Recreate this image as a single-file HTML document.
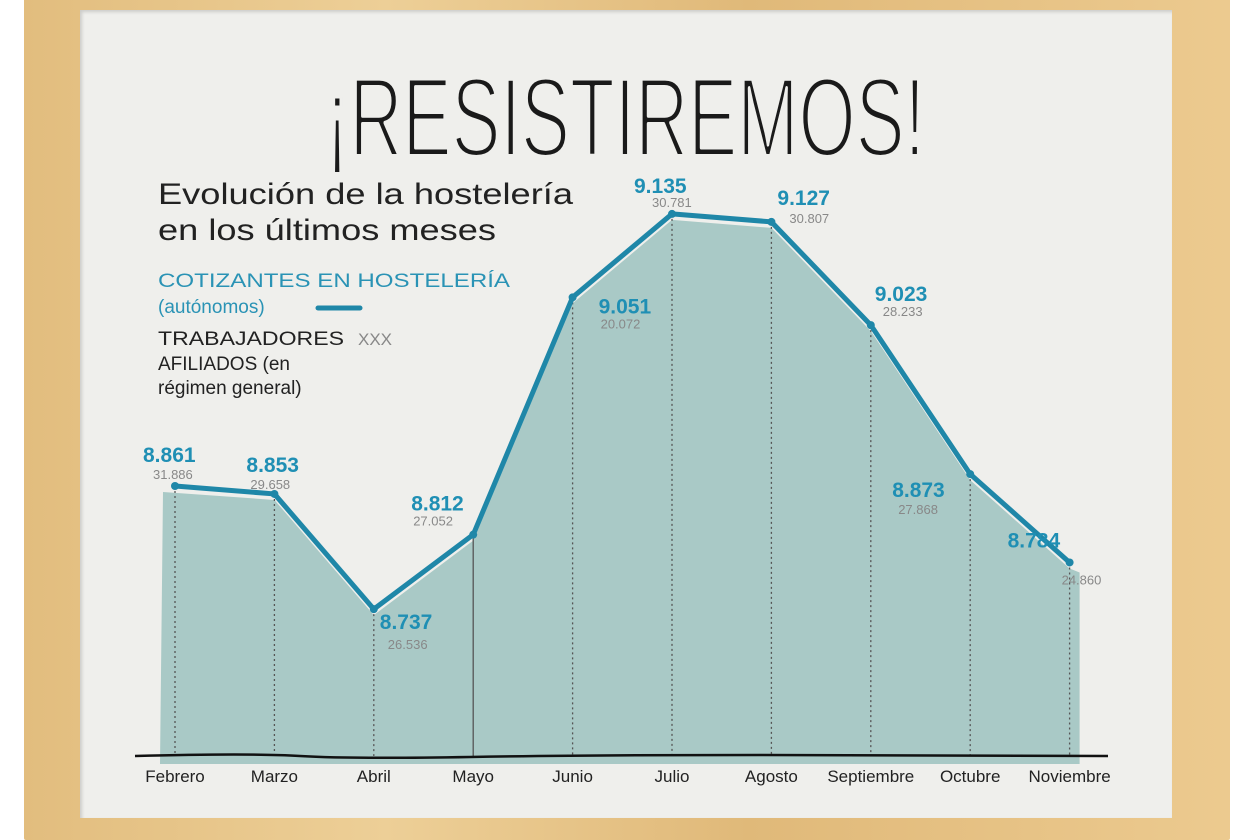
<!DOCTYPE html>
<html><head><meta charset="utf-8">
<style>
html,body{margin:0;padding:0;background:#ffffff;width:1248px;height:840px;overflow:hidden;}
#frame{position:absolute;left:24px;top:-10px;width:1206px;height:850px;background:linear-gradient(90deg,#e2bd7e,#edcf97 30%,#e0b979 60%,#ecca8f);border-radius:2px;}
#board{position:absolute;left:80px;top:10px;width:1092px;height:808px;background:#efefec;box-shadow:inset 2px 2px 3px rgba(0,0,0,0.15);}
svg{position:absolute;left:0;top:0;}
text{font-family:"Liberation Sans",sans-serif;}
</style></head><body>
<div id="frame"></div>
<div id="board"></div>
<svg id="chart" width="1248" height="840">
  <text x="325" y="156" font-size="112" textLength="600" lengthAdjust="spacingAndGlyphs" fill="#1a1a1a" stroke="#efefec" stroke-width="4" stroke-linejoin="round">¡RESISTIREMOS!</text>
  <text x="158" y="204" font-size="30" fill="#222" textLength="415" lengthAdjust="spacingAndGlyphs">Evolución de la hostelería</text>
  <text x="158" y="240" font-size="30" fill="#222" textLength="338" lengthAdjust="spacingAndGlyphs">en los últimos meses</text>
  <text x="158" y="287" font-size="19" fill="#2a93b5" textLength="352" lengthAdjust="spacingAndGlyphs">COTIZANTES EN HOSTELERÍA</text>
  <text x="158" y="313" font-size="19" fill="#2a93b5">(autónomos)</text>
  <line x1="318" y1="308" x2="360" y2="308" stroke="#1f87a8" stroke-width="5" stroke-linecap="round"/>
  <text x="158" y="345" font-size="19" fill="#222" textLength="186" lengthAdjust="spacingAndGlyphs">TRABAJADORES</text>
  <text x="358" y="345" font-size="17" fill="#888">XXX</text>
  <text x="158" y="370" font-size="19" fill="#222">AFILIADOS (en</text>
  <text x="158" y="394" font-size="19" fill="#222">régimen general)</text>
  <g id="plot"></g>
</svg>
<script>
const months = ["Febrero","Marzo","Abril","Mayo","Junio","Julio","Agosto","Septiembre","Octubre","Noviembre"];
const autonomos = [8861,8853,8737,8812,9051,9135,9127,9023,8873,8784];
const trabajadores = [31886,29658,26536,27052,29072,30781,30807,28233,27868,24860];
const autonomosLabels = ["8.861","8.853","8.737","8.812","9.051","9.135","9.127","9.023","8.873","8.784"];
const trabajadoresLabels = ["31.886","29.658","26.536","27.052","20.072","30.781","30.807","28.233","27.868","24.860"];

const NS="http://www.w3.org/2000/svg";
const plot=document.getElementById('plot');
const x0=175, dx=99.4, baseY=756;
function xScale(i){return x0+i*dx;}
function yScale(v){return 486-(v-8861)*0.993;}
const valOff=[[-32,-24],[-28,-22],[6,20],[-62,-24],[26,16],[-38,-21],[6,-17],[4,-24],[-78,23],[-62,-15]];
const wrkOff=[[-22,-7],[-24,-5],[14,40],[-60,-9],[28,31],[-20,-7],[18,1],[12,-9],[-72,40],[-8,22]];
function mk(tag,attrs){const e=document.createElementNS(NS,tag);for(const k in attrs)e.setAttribute(k,attrs[k]);return e;}

let d="M"+(xScale(0)-15)+","+(baseY+8);
autonomos.forEach((v,i)=>{d+=" L"+(xScale(i)+(i==0?-12:0))+","+(yScale(v)+6);});
d+=" L"+(xScale(autonomos.length-1)+10)+","+(yScale(autonomos[autonomos.length-1])+10)+" L"+(xScale(autonomos.length-1)+10)+","+(baseY+8)+" Z";
const area=mk('path',{d:d,fill:"#a9c9c6"});


plot.appendChild(area);

autonomos.forEach((v,i)=>{
  const l=mk('line',{x1:xScale(i),y1:yScale(v),x2:xScale(i),y2:baseY,stroke:"#555","stroke-width":1.3,"stroke-dasharray":i==3?"none":"2 3"});
  
  
  plot.appendChild(l);
});
const base=mk('path',{d:"M135,"+baseY+" Q250,753 300,756 T470,757 T760,755 T1108,756",stroke:"#111","stroke-width":2.5,fill:"none"});


plot.appendChild(base);
const pts=autonomos.map((v,i)=>xScale(i)+","+yScale(v)).join(" ");
const pl=mk('polyline',{points:pts,fill:"none",stroke:"#1f87a8","stroke-width":5,"stroke-linejoin":"round","stroke-linecap":"round"});


plot.appendChild(pl);
autonomos.forEach((v,i)=>{
  const c=mk('circle',{cx:xScale(i),cy:yScale(v),r:4,fill:"#1f87a8"});
  
  
  plot.appendChild(c);
  const t=mk('text',{x:xScale(i)+valOff[i][0],y:yScale(v)+valOff[i][1],"font-size":21,fill:"#1f8fb4","font-weight":"bold"});
  t.textContent=autonomosLabels[i];
  
  
  plot.appendChild(t);
  const w=mk('text',{x:xScale(i)+wrkOff[i][0],y:yScale(v)+wrkOff[i][1],"font-size":13,fill:"#888"});
  w.textContent=trabajadoresLabels[i];
  
  
  plot.appendChild(w);
  const m=mk('text',{x:xScale(i),y:782,"font-size":17,fill:"#222","text-anchor":"middle"});
  m.textContent=months[i];
  
  
  plot.appendChild(m);
});
</script>
</body></html>
